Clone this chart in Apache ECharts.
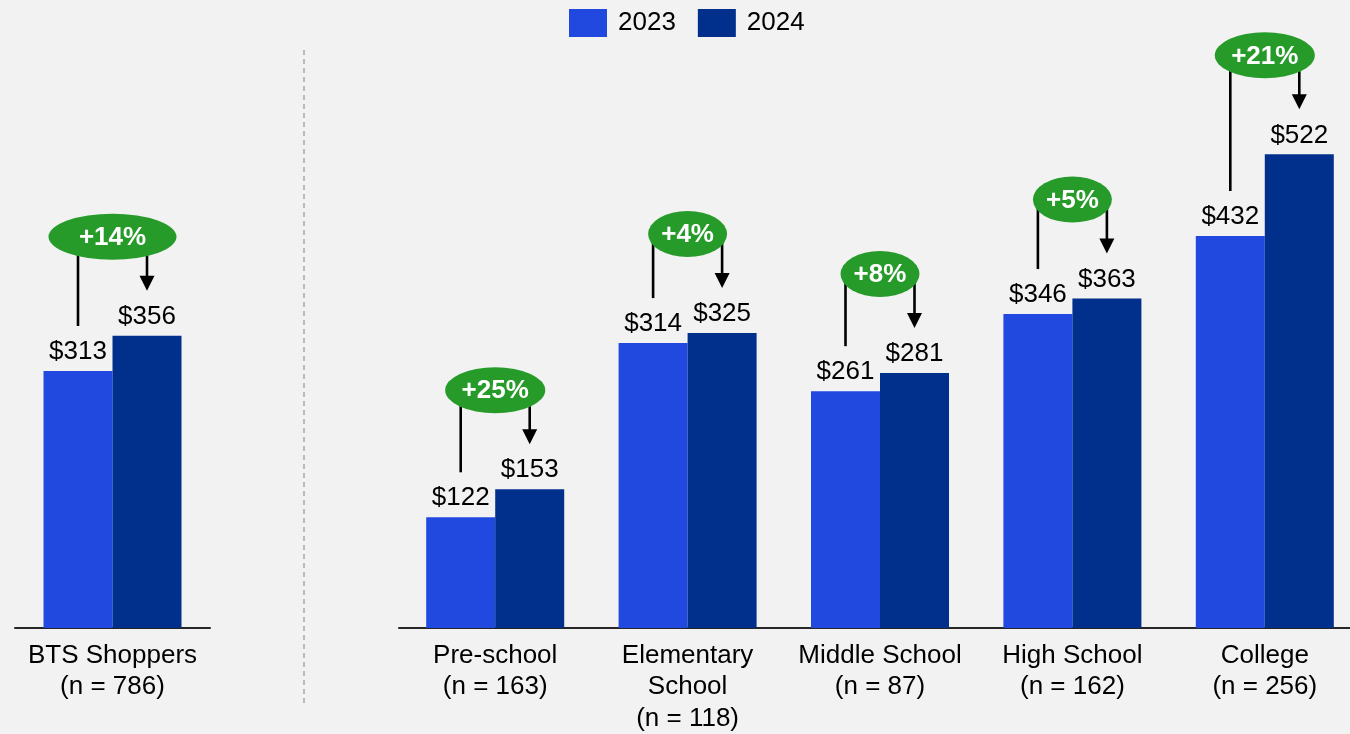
<!DOCTYPE html>
<html>
<head>
<meta charset="utf-8">
<title>Back-to-school spend, 2023 vs 2024</title>
<script src="https://cdn.jsdelivr.net/npm/echarts@6/dist/echarts.min.js"></script>
<style>
  html, body { margin: 0; padding: 0; background: #f2f2f2; }
  #chart { width: 1350px; height: 734px; }
</style>
</head>
<body>
<div id="chart"></div>
<script>
// Average spend per shopper, overall and by school level
const years = ['2023', '2024'];

const overallGroups = ['BTS Shoppers'];
const overallN = [786];
const overall2023 = [313];
const overall2024 = [356];
const overallChange = ['+14%'];

const levelGroups = ['Pre-school', 'Elementary\nSchool', 'Middle School', 'High School', 'College'];
const levelN = [163, 118, 87, 162, 256];
const level2023 = [122, 314, 261, 346, 432];
const level2024 = [153, 325, 281, 363, 522];
const levelChange = ['+25%', '+4%', '+8%', '+5%', '+21%'];

const COLOR_2023 = '#2149e0';
const COLOR_2024 = '#00308c';
const GREEN = '#279b2a';
const FONT = '"Liberation Sans", Arial, sans-serif';
const FONT_SIZE = 26;
const BAR_W = 69;

const chart = echarts.init(document.getElementById('chart'), null, { renderer: 'canvas' });

function axisLabels(groups, ns) {
  return groups.map((g, i) => g + '\n(n = ' + ns[i] + ')');
}

function barSeries(name, values, idx, color) {
  return {
    name: name,
    type: 'bar',
    xAxisIndex: idx,
    yAxisIndex: idx,
    data: values,
    barWidth: BAR_W,
    barGap: '0%',
    itemStyle: { color: color },
    label: {
      show: true,
      position: 'top',
      distance: 6,
      formatter: '${c}',
      color: '#000',
      fontSize: FONT_SIZE,
      fontFamily: FONT
    },
    emphasis: { disabled: true },
    z: 2
  };
}

// Change badge with a leader line from the 2023 bar and an arrow to the 2024 bar
function changeSeries(idx, v23, v24, changes, badgeWidth) {
  return {
    type: 'custom',
    xAxisIndex: idx,
    yAxisIndex: idx,
    silent: true,
    clip: false,
    z: 5,
    data: v23.map((v, i) => [i, v, v24[i]]),
    renderItem: function (params, api) {
      const i = api.value(0);
      const p23 = api.coord([i, api.value(1)]);
      const p24 = api.coord([i, api.value(2)]);
      const cx = p23[0];
      const x23 = cx - BAR_W / 2;
      const x24 = cx + BAR_W / 2;
      const top = Math.min(p23[1], p24[1]);
      const cy = top - 99;
      const text = changes[params.dataIndex];
      const w = badgeWidth(text);
      const ry = 23;
      const stop23 = p23[1] - 45;
      const tip = p24[1] - 45;
      const head = 15;
      return {
        type: 'group',
        children: [
          {
            type: 'line',
            shape: { x1: x23, y1: cy, x2: x23, y2: stop23 },
            style: { stroke: '#000', lineWidth: 2.6 }
          },
          {
            type: 'line',
            shape: { x1: x24, y1: cy, x2: x24, y2: tip - head + 1 },
            style: { stroke: '#000', lineWidth: 2.6 }
          },
          {
            type: 'polygon',
            shape: { points: [[x24 - 7.5, tip - head], [x24 + 7.5, tip - head], [x24, tip]] },
            style: { fill: '#000' }
          },
          {
            type: 'circle',
            x: cx,
            y: cy,
            scaleX: (w / 2) / ry,
            shape: { cx: 0, cy: 0, r: ry },
            style: { fill: GREEN }
          },
          {
            type: 'text',
            x: cx,
            y: cy + 1,
            style: {
              text: text,
              fill: '#fff',
              font: 'bold ' + FONT_SIZE + 'px ' + FONT,
              align: 'center',
              verticalAlign: 'middle'
            }
          }
        ]
      };
    }
  };
}

const xAxisCommon = {
  type: 'category',
  axisTick: { show: false },
  axisLine: { lineStyle: { color: '#262626', width: 2 } },
  axisLabel: {
    interval: 0,
    color: '#000',
    fontSize: FONT_SIZE,
    lineHeight: 31.5,
    margin: 12,
    fontFamily: FONT
  }
};

const yAxisCommon = {
  type: 'value',
  min: 0,
  show: false,
  splitLine: { show: false }
};

chart.setOption({
  backgroundColor: '#f2f2f2',
  animation: false,
  textStyle: { fontFamily: FONT },
  legend: {
    data: years,
    left: 564,
    top: 4,
    itemWidth: 38,
    itemHeight: 28,
    itemGap: 22,
    icon: 'rect',
    selectedMode: false,
    textStyle: { fontSize: FONT_SIZE, color: '#000', fontFamily: FONT, padding: [0, 0, 0, 6] }
  },
  grid: [
    { left: 15, width: 195, top: 50, bottom: 106, containLabel: false, outerBoundsMode: 'none' },
    { left: 399, width: 962, top: 50, bottom: 106, containLabel: false, outerBoundsMode: 'none' }
  ],
  xAxis: [
    Object.assign({ gridIndex: 0, data: axisLabels(overallGroups, overallN) }, xAxisCommon),
    Object.assign({ gridIndex: 1, data: axisLabels(levelGroups, levelN) }, xAxisCommon)
  ],
  yAxis: [
    Object.assign({ gridIndex: 0, max: 704 }, yAxisCommon),
    Object.assign({ gridIndex: 1, max: 637 }, yAxisCommon)
  ],
  series: [
    barSeries(years[0], overall2023, 0, COLOR_2023),
    barSeries(years[1], overall2024, 0, COLOR_2024),
    barSeries(years[0], level2023, 1, COLOR_2023),
    barSeries(years[1], level2024, 1, COLOR_2024),
    changeSeries(0, overall2023, overall2024, overallChange, function () { return 128; }),
    changeSeries(1, level2023, level2024, levelChange, function (t) { return t.length > 3 ? 100 : 79; })
  ],
  graphic: [
    {
      type: 'line',
      silent: true,
      shape: { x1: 304, y1: 50, x2: 304, y2: 707 },
      style: { stroke: '#a6a6a6', lineWidth: 1.5, lineDash: [5, 4] }
    }
  ]
});
</script>
</body>
</html>
